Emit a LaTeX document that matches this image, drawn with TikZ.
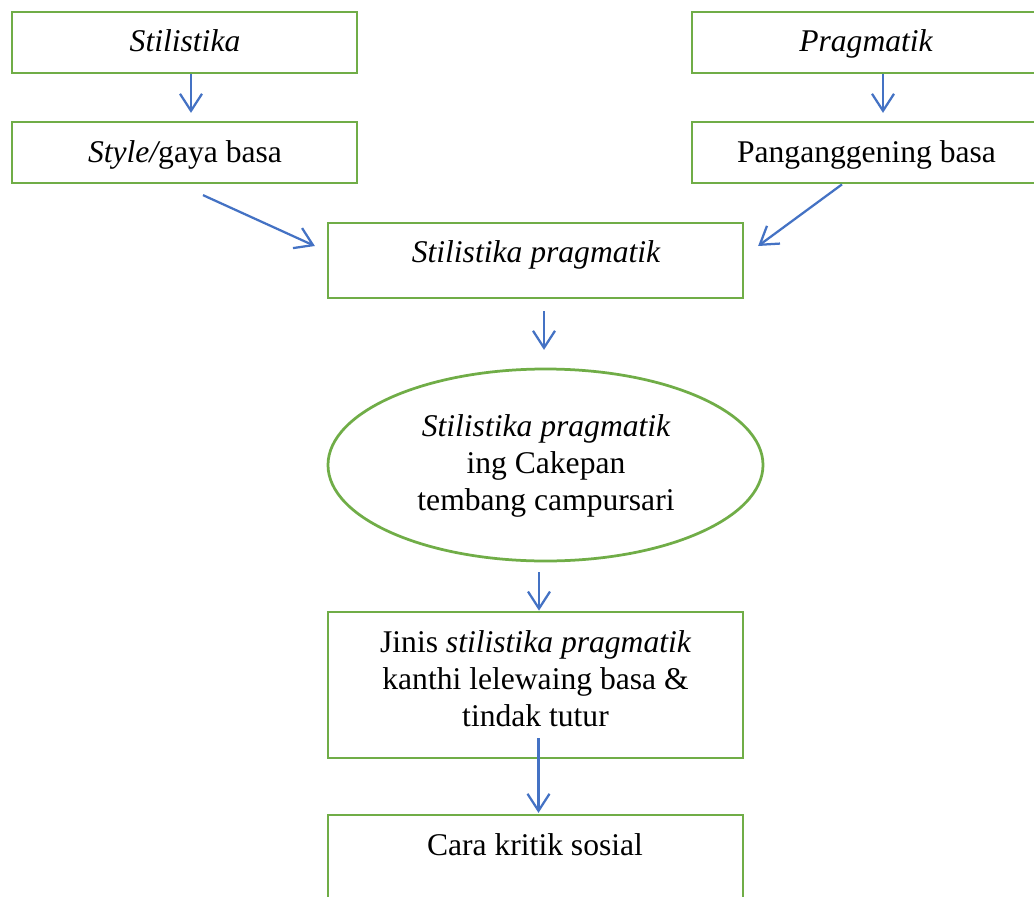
\documentclass[tikz,border=0pt]{standalone}
\usepackage{fontspec}
\setmainfont{Liberation Serif}
\usetikzlibrary{arrows.meta,shapes.geometric}
\definecolor{boxgreen}{HTML}{70AD47}
\definecolor{arrblue}{HTML}{4472C4}
\begin{document}
\begin{tikzpicture}[x=1pt,y=-1pt,
  boxnode/.style={draw=boxgreen,line width=2.75pt,rectangle,inner sep=0pt},
  ellnode/.style={draw=boxgreen,line width=2.75pt,ellipse,inner sep=0pt},
  txt/.style={font=\fontsize{31.6}{37}\selectfont,inner sep=0pt,align=center},
  arr/.style={draw=arrblue,line width=2.25pt,-{Straight Barb[length=17pt,width=22pt,line width=2.25pt]}}]
\clip (0,0) rectangle (1034,897);
\fill[white] (0,0) rectangle (1034,897);
% boxes
\node[boxnode,minimum width=345pt,minimum height=61pt] (stil) at (184.5,42.5) {};
\node[boxnode,minimum width=345pt,minimum height=61pt] (style) at (184.5,152.5) {};
\node[boxnode,minimum width=348pt,minimum height=61pt] (prag) at (866,42.5) {};
\node[boxnode,minimum width=348pt,minimum height=61pt] (pang) at (866,152.5) {};
\node[boxnode,minimum width=415pt,minimum height=75pt] (sp) at (535.5,260.5) {};
\node[ellnode,minimum width=435pt,minimum height=192pt] (ell) at (545.5,465) {};
\node[boxnode,minimum width=415pt,minimum height=146pt] (jinis) at (535.5,685) {};
\node[boxnode,minimum width=415pt,minimum height=145pt] (cara) at (535.5,887.5) {};
% texts
\node[txt,anchor=base] (stilT) at (185,51) {\itshape Stilistika};
\node[txt,anchor=base] (styleT) at (185,162) {\itshape Style/\upshape gaya basa};
\node[txt,anchor=base] (pragT) at (866,51) {\itshape Pragmatik};
\node[txt,anchor=base] (pangT) at (866.5,162) {Panganggening basa};
\node[txt,anchor=base] (spT) at (536,262) {\itshape Stilistika pragmatik};
\node[txt] (ellT) at (546,466) {\itshape Stilistika pragmatik\\ing Cakepan\\tembang campursari};
\node[txt] (jinisT) at (535.5,679) {Jinis \itshape stilistika pragmatik\\kanthi lelewaing basa \&\\tindak tutur};
\node[txt,anchor=base] (caraT) at (535,855) {Cara kritik sosial};
% arrows
\draw[arr] ([xshift=6.5pt]stil.south) -- ([xshift=6.5pt,yshift=7.75pt]style.north);
\draw[arr] ([xshift=17pt]prag.south) -- ([xshift=17pt,yshift=7.75pt]pang.north);
\draw[arr] ([xshift=18.5pt,yshift=-10.75pt]style.south) -- ([xshift=-11.75pt,yshift=14.5pt]sp.west);
\draw[arr] ([xshift=-24pt]pang.south) -- ([xshift=13.75pt,yshift=14.5pt]sp.east);
\draw[arr] ([xshift=8.5pt,yshift=-11.75pt]sp.south) -- ([xshift=-1.5pt,yshift=17.75pt]ell.north);
\draw[arr] ([xshift=-6.5pt,yshift=-9.75pt]ell.south) -- ([xshift=3.5pt]jinis.north);
\draw[arr] ([xshift=3pt,yshift=21.25pt]jinis.south) -- ([xshift=3pt,yshift=0.75pt]cara.north);
\end{tikzpicture}
\end{document}
